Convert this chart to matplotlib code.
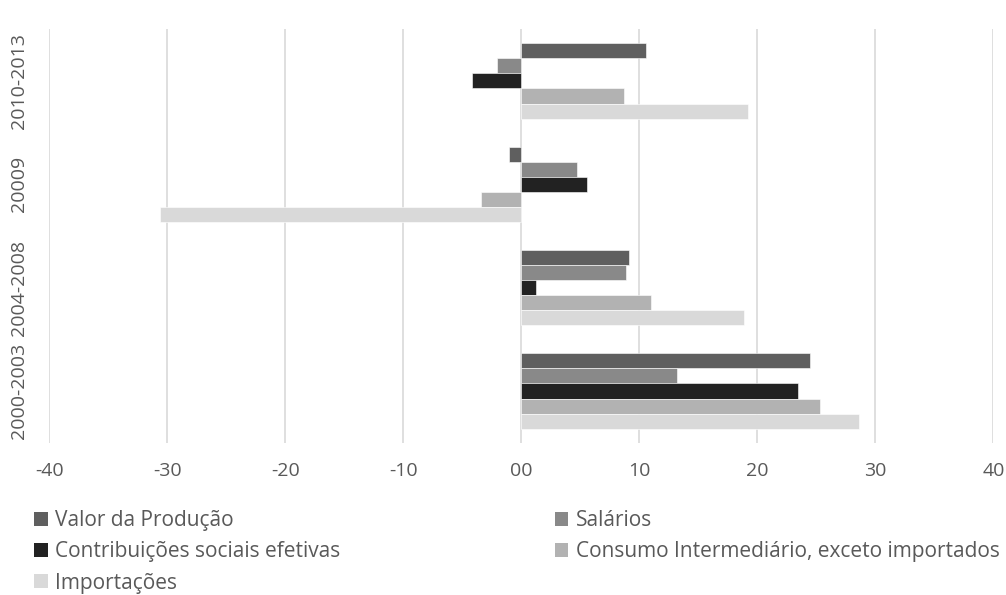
import numpy as np
import matplotlib.pyplot as plt
from matplotlib.patches import Patch

# Dados
periodos = ['2000-2003', '2004-2008', '20009', '2010-2013']
series = ['Valor da Produção', 'Salários', 'Contribuições sociais efetivas',
          'Consumo Intermediário, exceto importados', 'Importações']
valor_producao = [24.5, 9.1, -1.05, 10.55]
salarios = [13.2, 8.9, 4.7, -2.1]
contribuicoes = [23.45, 1.25, 5.6, -4.15]
consumo_interm = [25.3, 10.95, -3.4, 8.7]
importacoes = [28.65, 18.85, -30.6, 19.2]
xticks = [-40, -30, -20, -10, 0, 10, 20, 30, 40]
xtick_labels = ['-40', '-30', '-20', '-10', '00', '10', '20', '30', '40']

cores = ['#5f5f5f', '#898989', '#222222', '#b2b2b2', '#d9d9d9']
texto = '#595959'

plt.rcParams['font.family'] = ['Open Sans', 'DejaVu Sans']

fig = plt.figure(figsize=(10.06, 5.95), dpi=100)
ax = fig.add_axes([0.049, 0.256, 0.9384, 0.6948])

y = np.arange(len(periodos))
h = 0.146
dados = [valor_producao, salarios, contribuicoes, consumo_interm, importacoes]
handles = []
for i, (vals, cor, nome) in enumerate(zip(dados, cores, series)):
    ax.barh(y + (2 - i) * h, vals, height=h, color=cor, edgecolor='white',
            linewidth=0.4, zorder=3)
    handles.append(Patch(facecolor=cor, label=nome))

ax.set_xlim(-40, 40)
ax.set_ylim(-0.5, 3.5)
ax.set_xticks(xticks)
ax.set_xticklabels(xtick_labels)
ax.set_yticks(y)
ax.set_yticklabels(periodos, rotation=90, va='center')
ax.tick_params(axis='both', length=0, labelsize=14, labelcolor=texto)
ax.tick_params(axis='x', pad=14)
ax.tick_params(axis='y', pad=15)
ax.grid(axis='x', color='#d9d9d9', linewidth=1.2, zorder=0)
for s in ax.spines.values():
    s.set_visible(False)

# ordem por colunas para ficar igual ao original
ordem = [0, 2, 4, 1, 3]
fig.legend([handles[i] for i in ordem], [series[i] for i in ordem],
           ncol=2, loc='upper left', bbox_to_anchor=(0.034, 0.143),
           frameon=False, fontsize=15, labelcolor=texto,
           handlelength=0.65, handleheight=0.65, handletextpad=0.35,
           columnspacing=10.3, labelspacing=0.5, borderaxespad=0,
           borderpad=0)

plt.savefig('out.png', dpi=100)
